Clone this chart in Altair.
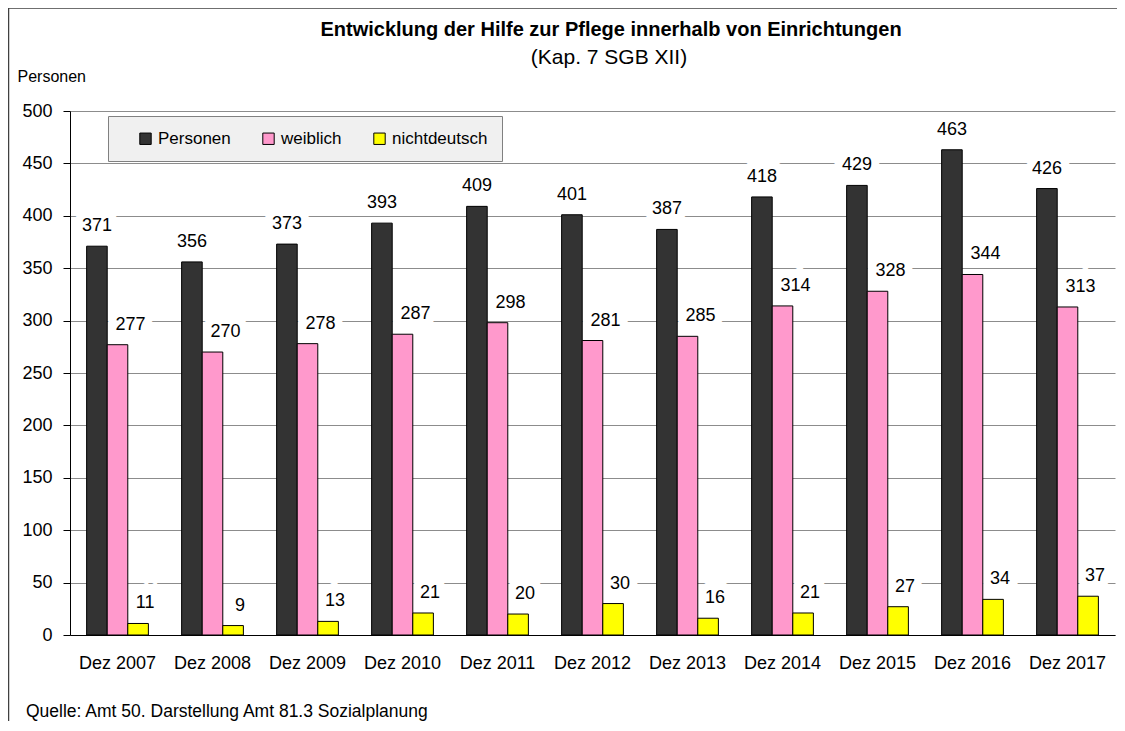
import altair as alt
import pandas as pd

categories = ["Dez 2007", "Dez 2008", "Dez 2009", "Dez 2010", "Dez 2011", "Dez 2012",
              "Dez 2013", "Dez 2014", "Dez 2015", "Dez 2016", "Dez 2017"]
series = ["Personen", "weiblich", "nichtdeutsch"]
personen = [371, 356, 373, 393, 409, 401, 387, 418, 429, 463, 426]
weiblich = [277, 270, 278, 287, 298, 281, 285, 314, 328, 344, 313]
nichtdeutsch = [11, 9, 13, 21, 20, 30, 16, 21, 27, 34, 37]
colors = ["#333333", "#ff99cc", "#ffff00"]
label_shift = [0, 13, 7]

FONT = "Liberation Sans, Arial, sans-serif"

rows = []
for name, vals in zip(series, [personen, weiblich, nichtdeutsch]):
    for c, v in zip(categories, vals):
        rows.append({"Jahr": c, "Reihe": name, "Wert": v})
df = pd.DataFrame(rows)

x = alt.X("Jahr:N", sort=categories,
          scale=alt.Scale(paddingInner=0.35, paddingOuter=0.175),
          axis=alt.Axis(title=None, labelAngle=0, ticks=False, domainColor="black",
                        labelFontSize=18, labelPadding=19, labelColor="black", grid=False))
xo = alt.XOffset("Reihe:N", sort=series, scale=alt.Scale(domain=series))
y = alt.Y("Wert:Q", scale=alt.Scale(domain=[0, 500], nice=False),
          axis=alt.Axis(values=list(range(0, 501, 50)), title="Personen", titleAngle=0,
                        titleX=-53, titleY=-35, titleAlign="left", titleBaseline="middle",
                        titleFontSize=16, titleFontWeight="normal", titleColor="black",
                        labelFontSize=18, labelColor="black", labelPadding=11,
                        tickSize=7, tickColor="black", domainColor="black",
                        grid=True, gridColor="#8c8c8c", gridWidth=1))

base = alt.Chart(df)

halos = []
texts = []
for s, shift in zip(series, label_shift):
    sub = base.transform_filter(alt.datum.Reihe == s)
    halos.append(sub.mark_text(dy=-20, dx=shift, fontSize=18, font=FONT, stroke="white",
                               strokeWidth=16, fill="white", baseline="middle").encode(
        x=x, xOffset=xo, y=y, text="Wert:Q"))
    texts.append(sub.mark_text(dy=-20, dx=shift, fontSize=18, font=FONT, color="black",
                               baseline="middle").encode(
        x=x, xOffset=xo, y=y, text="Wert:Q"))

bars = base.mark_bar(stroke="black", strokeWidth=1).encode(
    x=x, xOffset=xo, y=y,
    fill=alt.Fill("Reihe:N", sort=series,
                  scale=alt.Scale(domain=series, range=colors),
                  legend=alt.Legend(title=None, orient="none", legendX=38, legendY=5,
                                    direction="horizontal", symbolType="square",
                                    symbolSize=130, symbolStrokeColor="black",
                                    symbolStrokeWidth=1, labelFontSize=17,
                                    labelFont=FONT, labelColor="black",
                                    fillColor="#f0f0f0", strokeColor="#808080",
                                    padding=14, columnPadding=14, labelOffset=4,
                                    symbolOffset=15)))

info = pd.DataFrame({
    "t": ["Entwicklung der Hilfe zur Pflege innerhalb von Einrichtungen",
          "(Kap. 7 SGB XII)",
          "Quelle:  Amt 50. Darstellung  Amt 81.3 Sozialplanung"]})

title = alt.Chart(info).transform_filter(alt.datum.t == info["t"][0]).mark_text(
    align="center", baseline="middle", fontSize=20, fontWeight="bold", font=FONT,
    color="black").encode(text="t:N", x=alt.value(541), y=alt.value(-81))
subtitle = alt.Chart(info).transform_filter(alt.datum.t == info["t"][1]).mark_text(
    align="center", baseline="middle", fontSize=21, font=FONT,
    color="black").encode(text="t:N", x=alt.value(539), y=alt.value(-53))
source = alt.Chart(info).transform_filter(alt.datum.t == info["t"][2]).mark_text(
    align="left", baseline="middle", fontSize=17.5, font=FONT,
    color="black").encode(text="t:N", x=alt.value(-44), y=alt.value(601))

border = alt.Chart(info).transform_filter(alt.datum.t == info["t"][1]).mark_rect(
    fill=None, stroke="#404040", strokeWidth=1.5, clip=False).encode(
    x=alt.value(-61.5), x2=alt.value(1200), y=alt.value(-103), y2=alt.value(700))

chart = alt.layer(border, title, subtitle, *halos, bars, *texts, source).properties(
    width=1045, height=524,
    padding={"left": 62, "top": 103, "right": 2, "bottom": 86},
    autosize=alt.AutoSizeParams(type="none"),
).configure_view(stroke=None).configure_axis(labelFont=FONT, titleFont=FONT)

chart.save("out.html", embed_options={"renderer": "svg", "actions": False})
